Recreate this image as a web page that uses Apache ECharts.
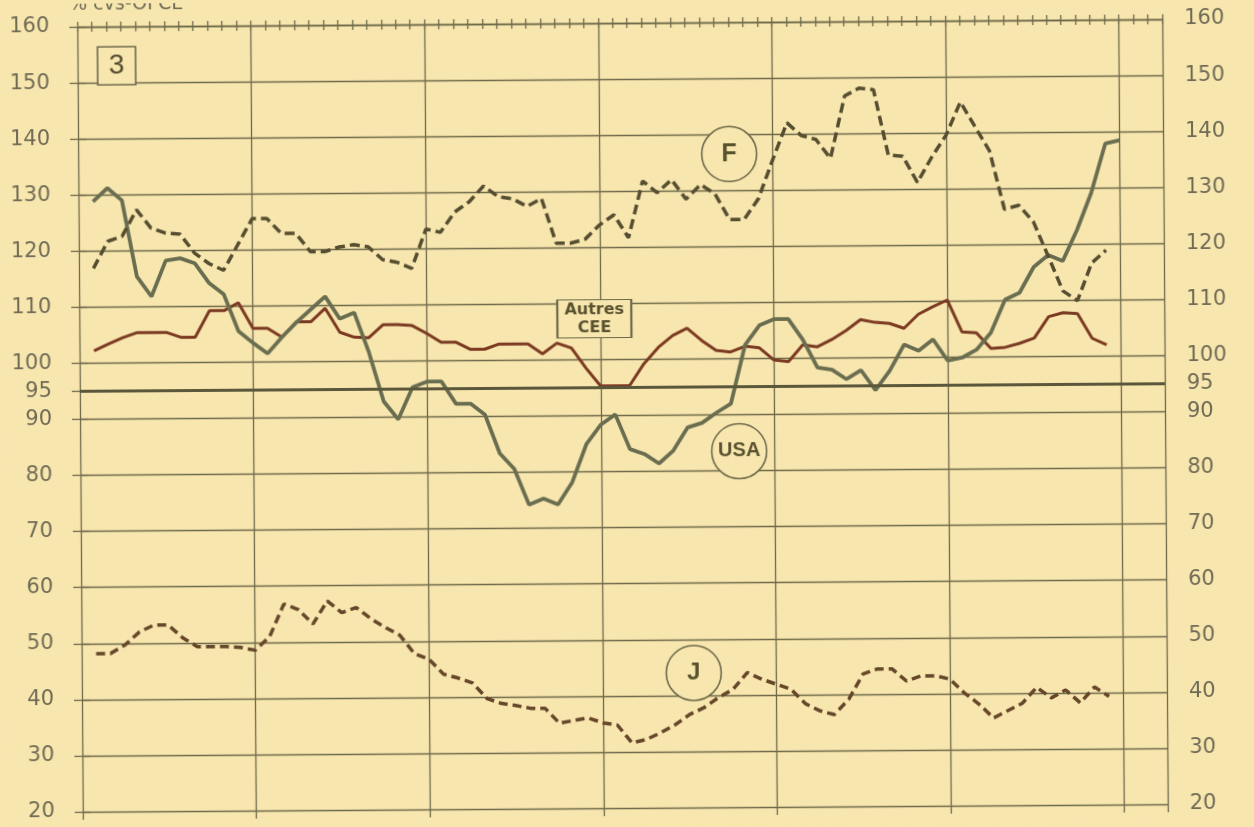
<!DOCTYPE html>
<html>
<head>
<meta charset="utf-8">
<title>% cvs-OFCE</title>
<script src="https://cdn.jsdelivr.net/npm/echarts@6/dist/echarts.min.js"></script>
<style>
  html, body { margin: 0; padding: 0; background: #F8E6AF; overflow: hidden; }
  /* the printed page sits very slightly askew */
  #chart { width: 1254px; height: 827px; transform: rotate(-0.4deg); transform-origin: 50% 50%; }
</style>
</head>
<body>
<div id="chart"></div>
<script>
// Monthly index: month 1 is the first observation; a vertical rule every 12 months
const yearLines = [0, 12, 24, 36, 48, 60, 72];
const monthRange = [0, 75];
const yTicks = [20, 30, 40, 50, 60, 70, 80, 90, 95, 100, 110, 120, 130, 140, 150, 160];
const refLevel = 95;

// Indices (% cvs-OFCE), one value per month
const usa = [
  128.8, 131.2, 129.0, 115.4, 111.8, 118.2, 118.6, 117.7, 114.1, 112.1,
  105.5, 103.4, 101.5, 104.4, 107.0, 109.3, 111.6, 107.6, 108.7, 101.6,
  92.8, 89.6, 95.3, 96.3, 96.3, 92.3, 92.3, 90.3, 83.4, 80.6,
  74.2, 75.3, 74.2, 78.2, 85.0, 88.4, 90.2, 84.0, 83.1, 81.4,
  83.7, 87.8, 88.6, 90.4, 92.0, 102.4, 105.9, 107.0, 107.0, 103.3,
  98.3, 97.9, 96.2, 97.8, 94.2, 97.7, 102.3, 101.2, 103.2, 99.4,
  99.9, 101.3, 104.3, 110.2, 111.4, 116.0, 118.1, 117.0, 122.5, 129.1,
  137.9, 138.5
];
const autresCEE = [
  102.2, 103.4, 104.5, 105.4, 105.4, 105.4, 104.5, 104.5, 109.2, 109.2,
  110.6, 106.0, 106.0, 104.4, 107.1, 107.1, 109.5, 105.2, 104.3, 104.2,
  106.5, 106.5, 106.3, 104.9, 103.3, 103.3, 102.0, 102.0, 102.9, 102.9,
  102.9, 101.1, 103.0, 102.1, 98.5, 95.3, 95.3, 95.3, 99.2, 102.1,
  104.2, 105.5, 103.3, 101.5, 101.2, 102.2, 101.9, 99.7, 99.4, 102.4,
  102.0, 103.3, 104.9, 106.8, 106.3, 106.1, 105.2, 107.7, 109.0, 110.2,
  104.5, 104.3, 101.5, 101.7, 102.4, 103.3, 107.1, 107.8, 107.6, 103.2,
  102.0
];
const france = [
  116.9, 121.7, 122.6, 127.3, 124.0, 123.1, 122.9, 119.5, 117.6, 116.4,
  121.0, 125.6, 125.6, 122.9, 122.9, 119.6, 119.6, 120.4, 120.8, 120.4,
  118.1, 117.6, 116.5, 123.5, 122.9, 126.5, 128.3, 131.1, 129.2, 128.8,
  127.4, 128.8, 120.8, 120.8, 121.5, 124.0, 125.8, 121.7, 131.8, 129.7,
  132.0, 128.5, 131.1, 129.4, 124.8, 124.8, 128.5, 135.4, 142.0, 139.7,
  139.0, 135.6, 146.7, 148.1, 147.8, 136.1, 135.9, 131.2, 135.7, 139.6,
  145.5, 141.1, 136.7, 126.3, 127.0, 124.0, 117.9, 111.7, 109.9, 116.6,
  118.9
];
const japon = [
  48.2, 48.2, 49.7, 52.0, 53.2, 53.2, 50.9, 49.3, 49.3, 49.3,
  49.1, 48.6, 51.0, 56.8, 55.8, 53.2, 57.3, 55.2, 56.1, 54.1,
  52.5, 51.1, 47.8, 46.8, 44.1, 43.4, 42.5, 39.7, 38.8, 38.4,
  37.9, 37.9, 35.2, 35.7, 36.1, 35.2, 34.8, 31.6, 32.2, 33.4,
  34.8, 36.6, 37.8, 39.6, 41.0, 44.0, 42.8, 41.9, 41.0, 38.4,
  37.1, 36.4, 39.1, 43.6, 44.5, 44.5, 42.3, 43.2, 43.2, 42.6,
  40.1, 38.1, 35.6, 36.9, 38.2, 41.0, 39.1, 40.5, 38.2, 41.0,
  39.3
];

const paper = '#F8E6AF';
const rule = '#6E6A4A';
const textInk = '#6F6B55';
const tagInk = '#58522F';

const toPairs = values => values.map((v, i) => [i + 1, v]);

const ruleStyle = { color: rule, width: 1.3 };

function hiddenX(extra) {
  return Object.assign({
    type: 'value', min: monthRange[0], max: monthRange[1],
    axisLine: { show: false }, axisLabel: { show: false },
    splitLine: { show: false }
  }, extra);
}

function yAxisDef(position, margin, withGrid) {
  return {
    type: 'value', min: 20, max: 160, position: position,
    axisLine: { show: false },
    axisTick: { show: true, length: 8, customValues: yTicks, lineStyle: ruleStyle },
    axisLabel: {
      customValues: yTicks, margin: margin,
      fontFamily: 'DejaVu Sans', fontSize: 21, color: textInk
    },
    splitLine: { show: withGrid, lineStyle: ruleStyle }
  };
}

function circleTag(coord, text, font) {
  return {
    coord: coord, symbol: 'circle', symbolSize: 55,
    itemStyle: { color: paper, borderColor: rule, borderWidth: 1.6 },
    label: Object.assign({
      show: true, position: 'inside', formatter: text, color: tagInk,
      fontWeight: 'bold', fontFamily: 'Liberation Sans'
    }, font)
  };
}

const chart = echarts.init(document.getElementById('chart'), null, { renderer: 'canvas' });

chart.setOption({
  backgroundColor: paper,
  animation: false,
  grid: { left: 80, right: 89, top: 23, bottom: 19 },
  graphic: [{
    type: 'text', left: 72, top: -8,
    style: { text: '% cvs-OFCE', font: '19px "DejaVu Sans"', fill: textInk }
  }],
  xAxis: [
    hiddenX({
      position: 'bottom', interval: yearLines[1] - yearLines[0],
      axisTick: { show: true, length: 8, lineStyle: ruleStyle },
      splitLine: { show: true, lineStyle: ruleStyle }
    }),
    hiddenX({
      position: 'top', interval: 1,
      axisLine: { show: true, lineStyle: ruleStyle },
      axisTick: { show: true, length: 5, lineStyle: ruleStyle }
    }),
    hiddenX({
      position: 'top', interval: 1,
      axisTick: { show: true, inside: true, length: 5, lineStyle: ruleStyle }
    })
  ],
  yAxis: [yAxisDef('left', 28, true), yAxisDef('right', 22, false)],
  series: [
    {
      name: 'Autres CEE', type: 'line', data: toPairs(autresCEE),
      showSymbol: false, symbol: 'none',
      lineStyle: { color: '#7B3A22', width: 3 },
      markPoint: {
        silent: true,
        data: [{
          coord: [35.6, 107.3], symbol: 'rect', symbolSize: [74, 38],
          itemStyle: { color: paper, borderColor: rule, borderWidth: 1.6 },
          label: {
            show: true, position: 'inside', formatter: 'Autres\nCEE',
            fontFamily: 'DejaVu Sans', fontWeight: 'bold', fontSize: 16,
            lineHeight: 18, color: tagInk
          }
        }]
      }
    },
    {
      name: 'USA', type: 'line', data: toPairs(usa),
      showSymbol: false, symbol: 'none',
      lineStyle: { color: '#6A6E50', width: 3.8 },
      markLine: {
        silent: true, symbol: 'none', label: { show: false },
        lineStyle: { color: '#5A573B', width: 3, type: 'solid' },
        data: [{ yAxis: refLevel }]
      },
      markPoint: {
        silent: true,
        data: [
          circleTag([45.55, 83.5], 'USA', { fontSize: 20 }),
          {
            coord: [2.7, 153.0], symbol: 'rect', symbolSize: [38, 38],
            itemStyle: { color: paper, borderColor: rule, borderWidth: 1.6 },
            label: {
              show: true, position: 'inside', formatter: '3',
              fontFamily: 'Liberation Sans', fontSize: 28, color: '#4F4A2E'
            }
          }
        ]
      }
    },
    {
      name: 'F', type: 'line', data: toPairs(france),
      showSymbol: false, symbol: 'none',
      lineStyle: { color: '#564E30', width: 3.5, type: [10, 5] },
      markPoint: {
        silent: true,
        data: [circleTag([45.0, 136.5], 'F', { fontSize: 25 })]
      }
    },
    {
      name: 'J', type: 'line', data: toPairs(japon),
      showSymbol: false, symbol: 'none',
      lineStyle: { color: '#66472A', width: 3.5, type: [9, 5] },
      markPoint: {
        silent: true,
        data: [circleTag([42.3, 44.0], 'J', { fontSize: 24 })]
      }
    }
  ]
});
</script>
</body>
</html>
